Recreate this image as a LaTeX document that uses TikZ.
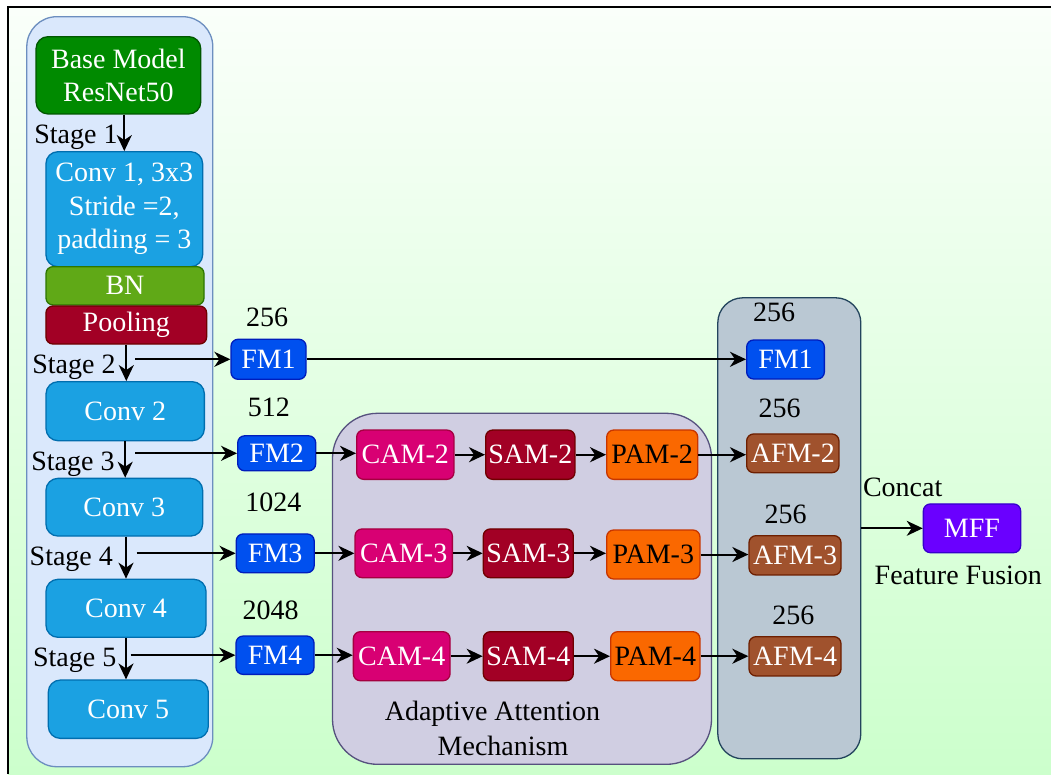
\documentclass[tikz,border=0pt]{standalone}
\usepackage{fontspec}
\setmainfont{Liberation Serif}
\usetikzlibrary{arrows.meta}

\definecolor{bgtop}{RGB}{250,255,250}
\definecolor{bgbot}{RGB}{204,255,204}
\definecolor{colfill}{HTML}{DAE8FC}\definecolor{coldraw}{HTML}{6C8EBF}
\definecolor{basefill}{HTML}{008A00}\definecolor{basedraw}{HTML}{005700}
\definecolor{convfill}{HTML}{1BA1E2}\definecolor{convdraw}{HTML}{006EAF}
\definecolor{bnfill}{HTML}{60A917}\definecolor{bndraw}{HTML}{2D7600}
\definecolor{redfill}{HTML}{A20025}\definecolor{reddraw}{HTML}{6F0000}
\definecolor{fmfill}{HTML}{0050EF}\definecolor{fmdraw}{HTML}{001DBC}
\definecolor{camfill}{HTML}{D80073}\definecolor{camdraw}{HTML}{A50040}
\definecolor{pamfill}{HTML}{FA6800}\definecolor{pamdraw}{HTML}{C73500}
\definecolor{afmfill}{HTML}{A0522D}\definecolor{afmdraw}{HTML}{6D1F00}
\definecolor{mfffill}{HTML}{6A00FF}\definecolor{mffdraw}{HTML}{3700CC}
\definecolor{attfill}{HTML}{D0CEE2}\definecolor{attdraw}{HTML}{56517E}
\definecolor{fusfill}{HTML}{BAC8D3}\definecolor{fusdraw}{HTML}{23445D}

\newcommand{\diagfont}{\fontsize{28}{33.5}\selectfont}

\begin{document}
\begin{tikzpicture}[x=1pt,y=-1pt,
  panel/.style={draw, line width=1.3pt, inner sep=0pt},
  box/.style={draw, line width=1.3pt, inner sep=0pt, rounded corners=7pt,
    text=white, align=center, font=\diagfont},
  bigbox/.style={box, rounded corners=12pt},
  fmbox/.style={box, fill=fmfill, draw=fmdraw},
  cambox/.style={box, fill=camfill, draw=camdraw},
  sambox/.style={box, fill=redfill, draw=reddraw},
  pambox/.style={box, fill=pamfill, draw=pamdraw, text=black},
  afmbox/.style={box, fill=afmfill, draw=afmdraw},
  convbox/.style={bigbox, fill=convfill, draw=convdraw},
  lbl/.style={font=\diagfont, anchor=base, inner sep=0pt},
  arr/.style={line width=2pt, -{Stealth[length=16pt,width=15pt,inset=5pt]}}]

\useasboundingbox (0,0) rectangle (1051,774);

% backdrop and frame
\fill[white] (0,0) rectangle (1051,774);
\shade[top color=bgtop, bottom color=bgbot] (8,7) rectangle (1051,774);
\draw[line width=2.4pt] (8,774) -- (8,7) -- (1051,7);

% panels
\node[panel, fill=colfill, draw=coldraw, rounded corners=30pt,
  minimum width=186pt, minimum height=750pt] (backbone) at (119.8,391.7) {};
\node[panel, fill=attfill, draw=attdraw, rounded corners=45pt,
  minimum width=379pt, minimum height=351pt] (attention) at (522,588.8) {};
\node[panel, fill=fusfill, draw=fusdraw, rounded corners=25pt,
  minimum width=143pt, minimum height=461pt] (fusion) at (789.3,528.3) {};

% backbone
\node[bigbox, fill=basefill, draw=basedraw, minimum width=164.7pt, minimum height=77.3pt]
  (base) at (118.4,75.3) {Base Model\\ResNet50};
\node[convbox, minimum width=156.7pt, minimum height=115pt]
  (conv1) at (124.3,209.2) {Conv 1, 3x3\\Stride =2,\\padding = 3};
\node[box, fill=bnfill, draw=bndraw, minimum width=158pt, minimum height=38.3pt]
  (bn) at (125,285.8) {BN};
\node[box, fill=redfill, draw=reddraw, minimum width=160.7pt, minimum height=38pt]
  (pool) at (126.3,325) {Pooling};
\node[convbox, minimum width=158.3pt, minimum height=59pt] (conv2) at (125.2,411.2) {Conv 2};
\node[convbox, minimum width=156.7pt, minimum height=57.7pt] (conv3) at (124.3,507.2) {Conv 3};
\node[convbox, minimum width=160pt, minimum height=58pt] (conv4) at (126,608.3) {Conv 4};
\node[convbox, minimum width=160pt, minimum height=58.3pt] (conv5) at (128.3,709.2) {Conv 5};

% feature maps
\node[fmbox, minimum width=75pt, minimum height=40pt] (fm1) at (268.5,359.3) {FM1};
\node[fmbox, minimum width=78pt, minimum height=35pt] (fm2) at (276.7,453.3) {FM2};
\node[fmbox, minimum width=78pt, minimum height=38.7pt] (fm3) at (275.2,553.3) {FM3};
\node[fmbox, minimum width=78pt, minimum height=38.3pt] (fm4) at (275,655.2) {FM4};

% attention modules
\node[cambox, minimum width=97.3pt, minimum height=49.3pt] (cam2) at (405.3,454.7) {CAM-2};
\node[sambox, minimum width=89.3pt, minimum height=49.3pt] (sam2) at (530.3,454.7) {SAM-2};
\node[pambox, minimum width=91pt, minimum height=49.3pt] (pam2) at (652.2,454.7) {PAM-2};
\node[cambox, minimum width=97.3pt, minimum height=48.7pt] (cam3) at (403.7,553.3) {CAM-3};
\node[sambox, minimum width=90pt, minimum height=48.7pt] (sam3) at (528.3,553.3) {SAM-3};
\node[pambox, minimum width=93.3pt, minimum height=49pt] (pam3) at (653.3,554.5) {PAM-3};
\node[cambox, minimum width=96.7pt, minimum height=49pt] (cam4) at (401.7,656.2) {CAM-4};
\node[sambox, minimum width=90pt, minimum height=49pt] (sam4) at (528.3,656.2) {SAM-4};
\node[pambox, minimum width=89.3pt, minimum height=49pt] (pam4) at (655.3,656.2) {PAM-4};

% fused maps
\node[fmbox, minimum width=77.7pt, minimum height=39pt] (fm1r) at (785.5,359.5) {FM1};
\node[afmbox, minimum width=92.3pt, minimum height=38.7pt] (afm2) at (792.8,453.3) {AFM-2};
\node[afmbox, minimum width=92pt, minimum height=39.3pt] (afm3) at (795,555.3) {AFM-3};
\node[afmbox, minimum width=92pt, minimum height=39.3pt] (afm4) at (795,656.3) {AFM-4};
\node[box, fill=mfffill, draw=mffdraw, minimum width=97.3pt, minimum height=48.7pt]
  (mff) at (972,528.3) {MFF};

% stage taps
\coordinate (tap2) at (135,359.3);
\coordinate (tap3) at (135,453.3);
\coordinate (tap4) at (136.7,553.3);
\coordinate (tap5) at (130.7,655.2);

% connectors
\draw[arr] (base.south -| conv1.north) -- (conv1.north);
\draw[arr] (pool.south) -- (pool.south |- conv2.north);
\draw[arr] (conv2.south) -- (conv2.south |- conv3.north);
\draw[arr] (conv3.south -| conv4.north) -- (conv4.north);
\draw[arr] (conv4.south) -- (conv4.south |- conv5.north);

\draw[arr] (tap2) -- (fm1.west);
\draw[arr] (tap3) -- (fm2.west);
\draw[arr] (tap4) -- (fm3.west);
\draw[arr] (tap5) -- (fm4.west);

\draw[arr] (fm1.east) -- (fm1.east -| fm1r.west);
\draw[arr] (fm2.east) -- (fm2.east -| cam2.west);
\draw[arr] (fm3.east) -- (fm3.east -| cam3.west);
\draw[arr] (fm4.east) -- (fm4.east -| cam4.west);

\draw[arr] (cam2.east) -- (cam2.east -| sam2.west);
\draw[arr] (sam2.east) -- (sam2.east -| pam2.west);
\draw[arr] (pam2.east) -- (pam2.east -| afm2.west);
\draw[arr] (cam3.east) -- (cam3.east -| sam3.west);
\draw[arr] (sam3.east) -- (sam3.east -| pam3.west);
\draw[arr] (pam3.east) -- (pam3.east -| afm3.west);
\draw[arr] (cam4.east) -- (cam4.east -| sam4.west);
\draw[arr] (sam4.east) -- (sam4.east -| pam4.west);
\draw[arr] (pam4.east) -- (pam4.east -| afm4.west);

\draw[arr] (fusion.east) -- (mff.west);

% labels
\node[lbl] (s1) at (76,143) {Stage 1};
\node[lbl] (s2) at (74,373) {Stage 2};
\node[lbl] (s3) at (73,470) {Stage 3};
\node[lbl] (s4) at (71.3,565) {Stage 4};
\node[lbl] (s5) at (74.7,666.7) {Stage 5};

\node[lbl] (c1) at (267,326) {256};
\node[lbl] (c2) at (268.8,416) {512};
\node[lbl] (c3) at (273.3,511) {1024};
\node[lbl] (c4) at (270.5,619.3) {2048};

\node[lbl] (r1) at (774.2,321.7) {256};
\node[lbl] (r2) at (779.7,417.3) {256};
\node[lbl] (r3) at (785.5,523.3) {256};
\node[lbl] (r4) at (793.3,624) {256};

\node[lbl] (concat) at (902.7,496.7) {Concat};
\node[lbl] (ffus) at (958.3,584.3) {Feature Fusion};
\node[lbl] (aam1) at (492.5,720.7) {Adaptive Attention};
\node[lbl] (aam2) at (503,755) {Mechanism};

\end{tikzpicture}
\end{document}
